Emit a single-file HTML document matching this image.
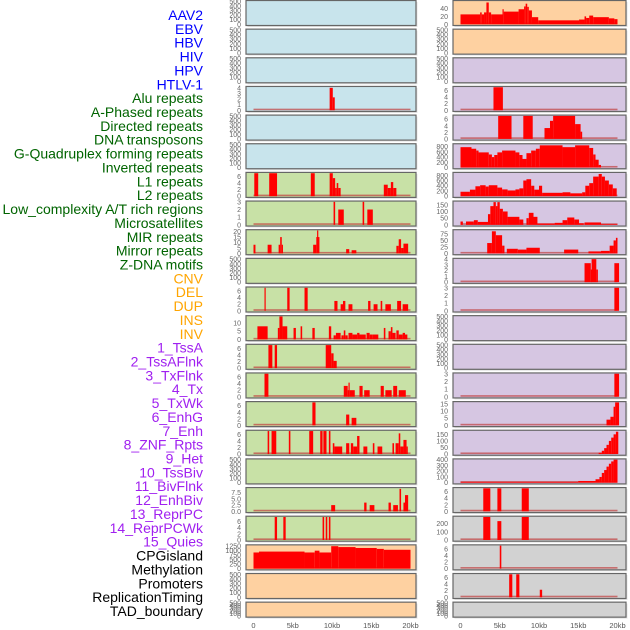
<!DOCTYPE html>
<html><head><meta charset="utf-8"><style>
html,body{margin:0;padding:0;background:#fff;}
svg{display:block;font-family:"Liberation Sans",sans-serif;}
</style></head><body>
<svg id="chart" width="630" height="630" viewBox="0 0 630 630" xmlns="http://www.w3.org/2000/svg"></svg>
<script>
// Track labels
const labelTexts = ["AAV2","EBV","HBV","HIV","HPV","HTLV-1","Alu repeats","A-Phased repeats","Directed repeats","DNA transposons","G-Quadruplex forming repeats","Inverted repeats","L1 repeats","L2 repeats","Low_complexity A/T rich regions","Microsatellites","MIR repeats","Mirror repeats","Z-DNA motifs","CNV","DEL","DUP","INS","INV","1_TssA","2_TssAFlnk","3_TxFlnk","4_Tx","5_TxWk","6_EnhG","7_Enh","8_ZNF_Rpts","9_Het","10_TssBiv","11_BivFlnk","12_EnhBiv","13_ReprPC","14_ReprPCWk","15_Quies","CPGisland","Methylation","Promoters","ReplicationTiming","TAD_boundary"];
const labelGroups = [0,0,0,0,0,0,1,1,1,1,1,1,1,1,1,1,1,1,1,2,2,2,2,2,3,3,3,3,3,3,3,3,3,3,3,3,3,3,3,4,4,4,4,4];
const groupColors = ["#0000ff","#006400","#ffa500","#a020f0","#000000"];
const xTickValues = [0,5,10,15,20];
const xTickLabels = ["0","5kb","10kb","15kb","20kb"];

// Panel backgrounds
const leftBg = ["b","b","b","b","b","b","g","g","g","g","g","g","g","g","g","g","g","g","g","o","o","o"];
const rightBg = ["o","o","p","p","p","p","p","p","p","p","p","p","p","p","p","p","p","g2","g2","g2","g2","g2"];
const bgColors = {b:"#c8e4ec",g:"#c8e1a6",o:"#fed1a1",p:"#d6c6e2",g2:"#d2d2d2"};

// Y max per panel
const leftYMax = [500,500,500,4.1,500,500,7,3,21,500,7,14,7,7,7,7,500,9.2,7.5,1280,500,500];
const rightYMax = [58,500,500,7,7,880,880,172,88,4,3,500,500,3,16,175,400,7,280,7,7,500];
// Y ticks per panel
const leftTicks = [[0,100,200,300,400,500],[0,100,200,300,400,500],[0,100,200,300,400,500],[0,1,2,3,4],[0,100,200,300,400,500],[0,100,200,300,400,500],[0,2,4,6],[0,1,2,3],[0,5,10,15,20],[0,100,200,300,400,500],[0,2,4,6],[0,5,10],[0,2,4,6],[0,2,4,6],[0,2,4,6],[0,2,4,6],[0,100,200,300,400,500],[0,2.5,5,7.5],[0,2,4,6],[0,250,500,750,1000,1250],[0,100,200,300,400,500],[0,100,200,300,400,500]];
const rightTicks = [[0,20,40],[0,100,200,300,400,500],[0,100,200,300,400,500],[0,2,4,6],[0,2,4,6],[0,200,400,600,800],[0,200,400,600,800],[0,50,100,150],[0,25,50,75],[0,1,2,3,4],[0,1,2,3],[0,100,200,300,400,500],[0,100,200,300,400,500],[0,1,2,3],[0,5,10,15],[0,50,100,150],[0,100,200,300,400],[0,2,4,6],[0,100,200],[0,2,4,6],[0,2,4,6],[0,100,200,300,400,500]];

// Segments [startKb, endKb, value]
const leftSegs = [
 [],[],[],
 [[9.7,10.1,4],[10.1,10.35,2.3]],
 [],[],
 [[0.1,0.6,7],[2,3,7],[7.3,7.8,7],[9.7,10.1,7],[10.1,10.4,5.5],[10.4,10.6,2.5],[10.6,10.8,4],[10.8,11.1,2.5],[16.6,17.1,3.5],[17.1,17.5,2.5],[17.5,17.8,4.3],[17.8,18.2,2.5]],
 [[10.2,10.4,3],[10.8,11.5,2],[13.9,14.1,3],[14.5,15.2,2]],
 [[0,0.25,8],[1.8,2.3,8],[3.2,3.4,8],[3.4,3.6,15],[3.6,3.7,8],[7.6,8,8],[8,8.1,15],[8.1,8.2,21],[8.2,8.4,15],[11.8,12.2,4],[12.5,13.1,3],[18.2,18.5,7],[18.5,18.8,13],[18.8,19.1,5],[19.1,19.7,9]],
 [],
 [[1.4,1.55,7],[4.3,4.6,7],[6.5,6.9,7],[10.3,10.7,3],[11.1,11.4,2],[11.4,11.7,3],[12.1,12.6,2],[14.6,14.9,3],[15.3,15.8,2],[16.2,16.4,3],[16.8,17.5,2],[18.3,18.8,3],[19,19.7,2]],
 [[0.5,1.8,8],[3.1,3.3,7],[3.3,3.7,14],[3.7,4.3,8],[5.1,5.4,7],[6,6.2,8],[7.5,7.8,7],[9.6,9.9,8],[10.2,10.5,2.5],[10.5,11.1,4],[11.2,11.5,2.5],[11.5,11.7,5.5],[11.7,12,2.5],[12.1,12.6,4],[12.6,13.2,3],[13.2,13.5,4],[13.5,14.3,3],[14.4,14.8,4],[14.8,15.2,3],[15.2,15.9,3],[16.6,16.8,7],[17.2,17.5,5],[17.5,17.7,7.5],[17.7,18.1,4],[18.2,18.5,5.5],[18.5,19,3],[19,19.3,4],[19.3,19.6,3]],
 [[1.9,2.4,7],[2.7,3.0,7],[9.2,9.9,7],[9.9,10.2,4.5],[10.2,10.6,2.2]],
 [[1.4,1.9,7],[11.5,12,3.3],[12,12.1,2],[12.1,12.25,4.3],[12.25,12.9,2],[13.5,13.9,3.3],[14.1,14.8,2],[16.2,16.6,3.3],[16.8,17.6,2],[17.8,18.3,3.3],[18.5,19.4,2]],
 [[7.5,7.9,7],[11.8,12.2,3.3],[12.5,13.1,2.3]],
 [[1.8,2.0,7],[2.3,2.9,7],[4.5,4.7,7],[7.1,7.6,7],[8.5,8.8,7],[8.9,9.3,7],[9.6,9.8,7],[10.1,10.3,3.3],[10.3,11.3,2.3],[11.8,12.2,3.3],[12.4,12.7,3.3],[12.7,13.2,2.3],[13.2,13.5,5.5],[14,14.5,2.3],[15.2,15.4,3.3],[15.8,16.4,2.3],[17.7,17.9,3.3],[18.1,18.5,3.3],[18.5,18.7,6.3],[18.7,19.1,2.3],[19.1,19.5,4.3],[19.5,19.6,2.3]],
 [],
 [[9.9,10.4,2.5],[14.1,14.4,3.5],[14.8,15.4,2.5],[17.2,17.5,3.5],[17.8,18.4,2.5],[18.6,18.8,9],[19.1,19.3,3.5],[19.3,19.7,6.5]],
 [[2.7,3.0,7.5],[3.8,4.1,7.5],[8.8,9.0,7.5],[9.2,9.4,7.5],[9.6,9.8,7.5]],
 [[0,0.7,900],[0.7,6.5,950],[6.5,7.8,900],[7.8,8.4,1000],[8.4,9.9,900],[9.9,10.8,1250],[10.8,13,1200],[13,15.7,1150],[15.7,16.6,1100],[16.6,20,1050]],
 [],[]
];
const rightSegs = [
 [[0,2.5,25],[2.5,2.7,30],[2.7,3.0,25],[3.0,3.3,30],[3.3,3.6,55],[3.6,3.9,30],[3.9,5.35,25],[5.35,5.5,38],[5.5,7.4,32],[7.4,8.1,38],[8.1,8.3,45],[8.3,8.5,52],[8.5,8.7,44],[8.7,9.1,35],[9.1,9.9,18],[9.9,15.1,10],[15.1,15.8,12],[15.8,16,20],[16,16.4,16],[16.4,16.9,22],[16.9,18.9,18],[18.9,19.6,15],[19.6,20,13]],
 [],[],
 [[4.2,5.4,7]],
 [[4.8,6.5,7],[8.0,9.2,7],[10.7,11.4,3.3],[11.4,11.8,5.5],[11.8,14.6,7],[14.6,15.3,4.5],[15.3,15.5,2.2]],
 [[0,1.4,780],[1.4,2,720],[2,2.3,650],[2.3,3.6,580],[3.6,4,500],[4,4.3,400],[4.3,4.7,480],[4.7,5.3,580],[5.3,7,650],[7,7.5,580],[7.5,7.9,480],[7.9,8.4,330],[8.4,9,550],[9,9.6,650],[9.6,10.1,720],[10.1,13,850],[13,14.6,780],[14.6,16.4,850],[16.4,16.9,750],[16.9,17.2,500],[17.2,17.6,300],[17.6,17.9,100]],
 [[0,1.2,170],[1.2,1.9,250],[1.9,2.5,380],[2.5,3.2,420],[3.2,3.6,370],[3.6,4.7,420],[4.7,5.3,330],[5.3,6,260],[6,7,220],[7,7.5,260],[7.5,8,300],[8,8.4,600],[8.4,9,650],[9,9.4,400],[9.4,10,250],[10,10.4,400],[10.4,13,130],[13,14,150],[14,15.5,110],[15.5,15.9,150],[15.9,16.4,400],[16.4,16.9,500],[16.9,17.6,750],[17.6,18,850],[18,18.4,750],[18.4,18.9,600],[18.9,19.4,450],[19.4,19.9,300]],
 [[0,0.3,25],[0.7,1.7,25],[1.7,2.2,35],[2.2,3.5,22],[3.5,3.8,80],[3.8,4.2,140],[4.2,4.5,170],[4.5,4.7,140],[4.7,5,170],[5,5.4,120],[5.4,6,100],[6,7.5,60],[7.5,8,40],[8.4,8.7,50],[8.7,9.3,90],[9.3,9.8,60],[9.8,12,10],[12,13,15],[13,13.6,35],[13.6,14.5,55],[14.5,15.1,40],[15.1,15.7,12],[15.8,17.9,18],[17.9,20,5]],
 [[3.4,4,40],[4,4.5,85],[4.5,5.3,70],[5.3,5.6,30],[5.9,7.3,18],[7.3,8.4,15],[8.4,10.1,22],[13.2,15,15],[16.3,17.9,8],[17.9,19,10],[19,19.5,30],[19.5,19.8,50],[19.8,20,60]],
 [[15.8,16.6,3.3],[16.6,16.7,2.2],[16.7,17.3,4],[17.3,17.5,2.2],[19.6,20.2,3.3]],
 [[19.6,20.2,3]],
 [],[],
 [[19.6,20.2,3]],
 [[18.6,19.1,4],[19.1,19.5,6],[19.5,19.7,13],[19.7,20.2,16]],
 [[17.6,18,10],[18,18.3,25],[18.3,18.6,45],[18.6,18.9,70],[18.9,19.2,100],[19.2,19.5,125],[19.5,19.8,150],[19.8,20.1,170]],
 [[0,15,15],[15,17.2,30],[17.2,17.7,60],[17.7,18,100],[18,18.3,170],[18.3,18.6,220],[18.6,18.9,280],[18.9,19.2,330],[19.2,19.5,370],[19.5,20,400]],
 [[2.9,3.8,7],[4.7,5.2,7],[7.8,8.7,7]],
 [[2.9,3.8,280],[4.7,5.2,230],[7.8,8.7,280]],
 [[5.0,5.2,7]],
 [[6.2,6.6,7],[7.1,7.5,7],[10.1,10.4,2.3]],
 []
];

const NS = "http://www.w3.org/2000/svg";
const svg = document.getElementById("chart");
function mk(tag, attrs, parent){
  const e = document.createElementNS(NS, tag);
  for (const k in attrs) e.setAttribute(k, attrs[k]);
  (parent||svg).appendChild(e);
  return e;
}
const KBPX = 7.85;
function rowTop(i){ return i*28.65 + 0.5; }
function rowH(i){ return i===21 ? 15 : 25; }

// labels
labelTexts.forEach(function(t,i){
  const el = mk("text",{x:203,y:20+i*13.86,"text-anchor":"end","font-size":"14",fill:groupColors[labelGroups[i]]});
  el.textContent = t;
  
  
});

function drawPanel(col, i){
  const boxX = col===0 ? 246 : 453;
  const boxW = col===0 ? 170 : 173;
  const x0 = col===0 ? 253.5 : 460.5;
  const bg = col===0 ? leftBg[i] : rightBg[i];
  const ymax = col===0 ? leftYMax[i] : rightYMax[i];
  const ticks = col===0 ? leftTicks[i] : rightTicks[i];
  const segs = col===0 ? leftSegs[i] : rightSegs[i];
  const top = rowTop(i), h = rowH(i);
  const g = mk("g",{});
  
  
  mk("rect",{x:boxX+1.5,y:top+1.5,width:boxW,height:h,fill:"#e4e4e4"},g);
  mk("rect",{x:boxX,y:top,width:boxW,height:h,fill:bgColors[bg],stroke:"#666","stroke-width":1.2},g);
  const yb = top + h - 1.2, yt = top + 0.8;
  const ys = function(v){ return yb - v/ymax*(yb-yt); };
  const xs = function(kb){ return x0 + kb*KBPX; };
  ticks.forEach(function(v){
    const t = mk("text",{x:boxX-5,y:ys(v)+2.5,"text-anchor":"end","font-size":"7",fill:"#666"},g);
    t.textContent = (ticks.indexOf(2.5)>=0) ? v.toFixed(1) : String(v);
    
    
  });
  if (segs.length){
    const bl = mk("rect",{x:xs(0),y:yb-1.6,width:xs(20)-xs(0),height:1.6,fill:"#c04040",opacity:0.7},g);
    
    
    segs.forEach(function(s){
      const r = mk("rect",{x:xs(s[0]),y:ys(s[2]),width:Math.max(1.2,xs(s[1])-xs(s[0])),height:yb-ys(s[2]),fill:"#ff0000"},g);
      
      
    });
  }
}
for (let i=0;i<22;i++){ drawPanel(0,i); drawPanel(1,i); }

// x axes
[253.5,460.5].forEach(function(x0,c){
  xTickValues.forEach(function(v,j){
    const t = mk("text",{x:x0+v*KBPX,y:628,"text-anchor":"middle","font-size":"7.5",fill:"#555"});
    t.textContent = xTickLabels[j];
    
    
  });
});
</script>
</body></html>
